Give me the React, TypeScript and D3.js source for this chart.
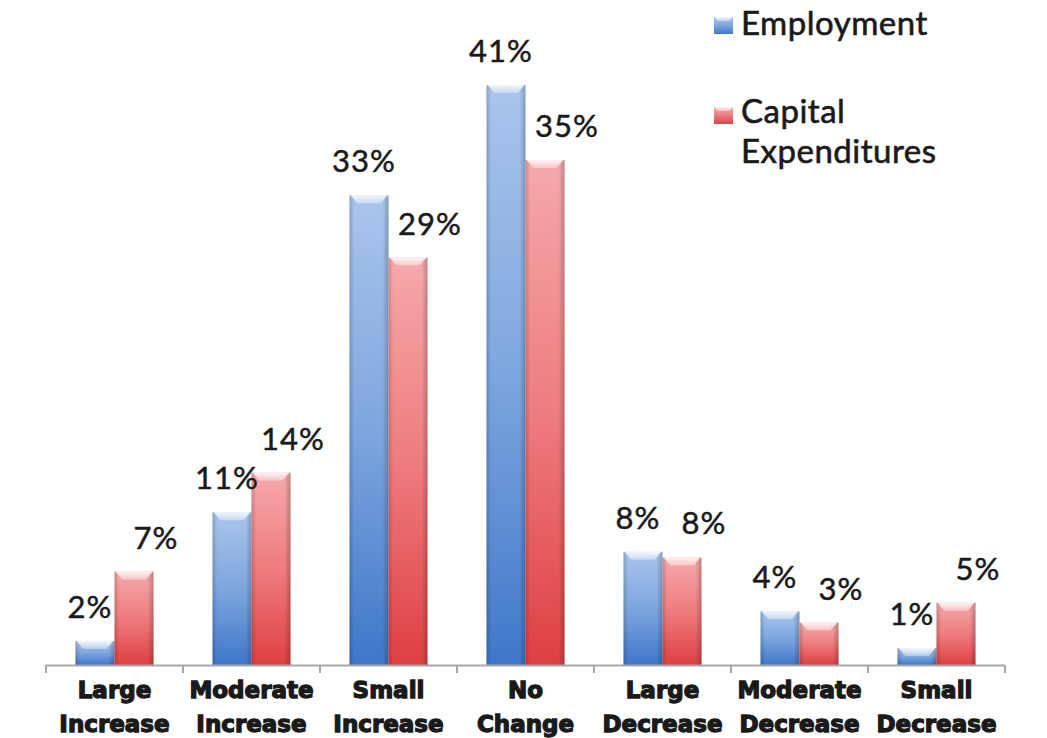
import React, { useEffect, useRef } from "react";
import * as d3 from "d3";

const categories = [
  ["Large", "Increase"],
  ["Moderate", "Increase"],
  ["Small", "Increase"],
  ["No", "Change"],
  ["Large", "Decrease"],
  ["Moderate", "Decrease"],
  ["Small", "Decrease"],
];
const seriesNames = ["Employment", "Capital Expenditures"];
// bar heights as drawn in the picture (percent)
const employment = [1.7, 10.8, 33.2, 41, 8.0, 3.8, 1.2];
const capitalExpenditures = [6.6, 13.6, 28.8, 35.7, 7.6, 3.0, 4.4];
// printed data labels (percent)
const employmentLabels = [2, 11, 33, 41, 8, 4, 1];
const capitalLabels = [7, 14, 29, 35, 8, 3, 5];

const W = 1047;
const H = 738;
const FONT = "Lato, 'Open Sans', sans-serif";
const CAT_FONT = "'DejaVu Sans', sans-serif";

export default function App() {
  const catRef = useRef<SVGGElement>(null);

  const x0 = d3
    .scaleBand<number>()
    .domain(d3.range(categories.length))
    .range([46, 1005])
    .paddingInner(0)
    .paddingOuter(0);
  const x1 = d3
    .scaleBand<number>()
    .domain([0, 1])
    .range([0, x0.bandwidth()])
    .paddingInner(0)
    .paddingOuter(0.756);
  const y = d3.scaleLinear().domain([0, 41]).range([665, 85]);

  const series = [
    { values: employment, labels: employmentLabels, grad: "gBlue", dx: -5 },
    { values: capitalExpenditures, labels: capitalLabels, grad: "gRed", dx: 22 },
  ];

  useEffect(() => {
    if (!catRef.current) return;
    d3.select(catRef.current)
      .selectAll<SVGGElement, unknown>("g.cat")
      .each(function () {
        const g = this as SVGGElement;
        const bb = g.getBBox();
        let shift = 0;
        if (bb.x < 12) shift = 12 - bb.x;
        if (bb.x + bb.width > W - 14) shift = W - 14 - (bb.x + bb.width);
        d3.select(g).attr("transform", `translate(${shift},0)`);
      });
  }, []);

  const ticks = d3.range(categories.length + 1).map((i) =>
    i < categories.length ? (x0(i) as number) : (x0(i - 1) as number) + x0.bandwidth()
  );

  return (
    <svg width={W} height={H} style={{ position: "absolute", left: 0, top: 0 }}>
      <defs>
        <linearGradient id="gBlue" x1="0" y1="0" x2="0" y2="1">
          <stop offset="0" stopColor="#a9c5ec" />
          <stop offset="0.5" stopColor="#7ea6de" />
          <stop offset="1" stopColor="#3f77c9" />
        </linearGradient>
        <linearGradient id="gRed" x1="0" y1="0" x2="0" y2="1">
          <stop offset="0" stopColor="#f5a9ab" />
          <stop offset="0.5" stopColor="#ee7c7e" />
          <stop offset="1" stopColor="#de4043" />
        </linearGradient>
        <linearGradient id="gEdge" x1="0" y1="0" x2="1" y2="0">
          <stop offset="0" stopColor="#000" stopOpacity="0.18" />
          <stop offset="0.12" stopColor="#000" stopOpacity="0.0" />
          <stop offset="0.85" stopColor="#000" stopOpacity="0.0" />
          <stop offset="1" stopColor="#000" stopOpacity="0.22" />
        </linearGradient>
        <linearGradient id="gBevel" x1="0" y1="0" x2="0" y2="1">
          <stop offset="0" stopColor="#fff" stopOpacity="0.85" />
          <stop offset="1" stopColor="#fff" stopOpacity="0.35" />
        </linearGradient>
      </defs>
      <rect width={W} height={H} fill="#fff" />

      {/* bars */}
      {series.map((s, si) =>
        s.values.map((v, ci) => {
          const bx = (x0(ci) as number) + (x1(si) as number);
          const bw = x1.bandwidth();
          const top = y(v);
          const h = y(0) - top;
          const bev = Math.min(8, h / 2);
          const inset = Math.min(8, bw / 4);
          return (
            <g key={`b${si}-${ci}`}>
              <rect x={bx} y={top} width={bw} height={h} fill={`url(#${s.grad})`} />
              <rect x={bx} y={top} width={bw} height={h} fill="url(#gEdge)" />
              <polygon
                points={`${bx + 1},${top} ${bx + bw - 1},${top} ${bx + bw - inset},${top + bev} ${bx + inset},${top + bev}`}
                fill="url(#gBevel)"
              />
            </g>
          );
        })
      )}

      {/* axis */}
      <line x1={46} x2={1005} y1={665.5} y2={665.5} stroke="#a8a8a8" strokeWidth={2} />
      {ticks.map((t, i) => (
        <line key={`t${i}`} x1={t} x2={t} y1={665} y2={673} stroke="#a8a8a8" strokeWidth={2} />
      ))}

      {/* value labels */}
      {series.map((s, si) =>
        s.values.map((v, ci) => {
          const cx = (x0(ci) as number) + (x1(si) as number) + x1.bandwidth() / 2 + s.dx;
          return (
            <text
              key={`l${si}-${ci}`}
              x={cx}
              y={y(v) - 23}
              textAnchor="middle"
              fontFamily={FONT}
              fontSize={31}
              letterSpacing={1}
              fill="#1a1a1a"
              stroke="#1a1a1a"
              strokeWidth={0.5}
            >
              {`${s.labels[ci]}%`}
            </text>
          );
        })
      )}

      {/* category labels */}
      <g ref={catRef}>
        {categories.map((c, ci) => {
          const cx = (x0(ci) as number) + x0.bandwidth() / 2;
          return (
            <g className="cat" key={`c${ci}`}>
              {c.map((line, li) => (
                <text
                  key={li}
                  x={cx}
                  y={698 + li * 34}
                  textAnchor="middle"
                  fontFamily={CAT_FONT}
                  fontWeight={700}
                  fontSize={23}
                  fill="#1a1a1a"
                  stroke="#1a1a1a"
                  strokeWidth={1.3}
                >
                  {line}
                </text>
              ))}
            </g>
          );
        })}
      </g>

      {/* legend */}
      <g fontFamily={FONT} fontSize={33} fill="#1a1a1a" stroke="#1a1a1a" strokeWidth={0.6} letterSpacing={0.5}>
        <rect x={714} y={17} width={19} height={17} fill="url(#gBlue)" stroke="none" />
        <polygon points="714,17 733,17 729,21 718,21" fill="url(#gBevel)" stroke="none" />
        <text x={741} y={35}>{seriesNames[0]}</text>
        <rect x={714} y={107} width={19} height={17} fill="url(#gRed)" stroke="none" />
        <polygon points="714,107 733,107 729,111 718,111" fill="url(#gBevel)" stroke="none" />
        <text x={741} y={123}>Capital</text>
        <text x={741} y={163}>Expenditures</text>
      </g>
    </svg>
  );
}
